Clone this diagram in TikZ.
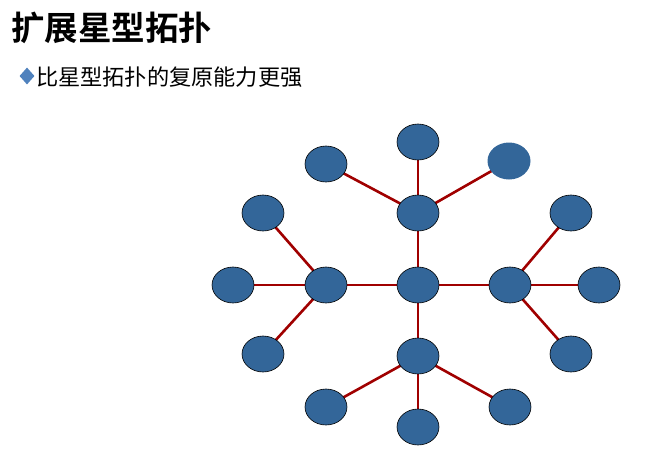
\documentclass[tikz,border=0pt]{standalone}
\usepackage{fontspec}
\newfontfamily\cjk{Noto Sans CJK SC}
\newfontfamily\cjkb{Noto Sans CJK SC Bold}
\usetikzlibrary{shapes.geometric,backgrounds}
\definecolor{nodeblue}{RGB}{51,102,153}
\definecolor{linkred}{RGB}{160,0,0}
\definecolor{bulletblue}{RGB}{79,129,189}
\tikzset{
  host/.style={ellipse, fill=nodeblue, draw=black, line width=0.6pt, minimum width=42pt, minimum height=36pt, inner sep=0pt},
  hostnb/.style={ellipse, fill=nodeblue, draw=none, minimum width=43pt, minimum height=37pt, inner sep=0pt},
  link/.style={draw=linkred, line width=2.6pt},
}
\begin{document}
\begin{tikzpicture}[x=1pt,y=-1pt]
\useasboundingbox (0,0) rectangle (649,456);
\node[anchor=west, inner sep=0pt] (title) at (11,28) {\cjkb\fontsize{33.5}{36}\selectfont 扩展星型拓扑};
\node[diamond, fill=bulletblue, minimum width=15pt, minimum height=17pt, inner sep=0pt] (bullet) at (27,76) {};
\node[anchor=west, inner sep=0pt] (sub) at (36,77) {\cjk\fontsize{22.2}{25}\selectfont 比星型拓扑的复原能力更强};

\node[host] (C) at (418,285) {};
\node[host] (T) at (418,213) {};
\node[host] (L) at (326,285) {};
\node[host] (R) at (510,285) {};
\node[host] (B) at (418,356) {};
\node[host] (TT) at (418,142) {};
\node[host] (TL) at (326,164) {};
\node[hostnb] (TR) at (509,161) {};
\node[host] (LL) at (233,285) {};
\node[host] (LU) at (263,213) {};
\node[host] (LD) at (263,354) {};
\node[host] (RR) at (599,285) {};
\node[host] (RU) at (571,213) {};
\node[host] (RD) at (571,354) {};
\node[host] (BB) at (418,427) {};
\node[host] (BL) at (326,407) {};
\node[host] (BR) at (510,407) {};

\begin{scope}[on background layer]
\foreach \a/\b in {C/T,C/L,C/R,C/B,T/TT,T/TL,T/TR,L/LL,L/LU,L/LD,R/RR,R/RU,R/RD,B/BB,B/BL,B/BR}{
  \draw[link] (\a.center) -- (\b.center);
}
\end{scope}
\end{tikzpicture}
\end{document}
